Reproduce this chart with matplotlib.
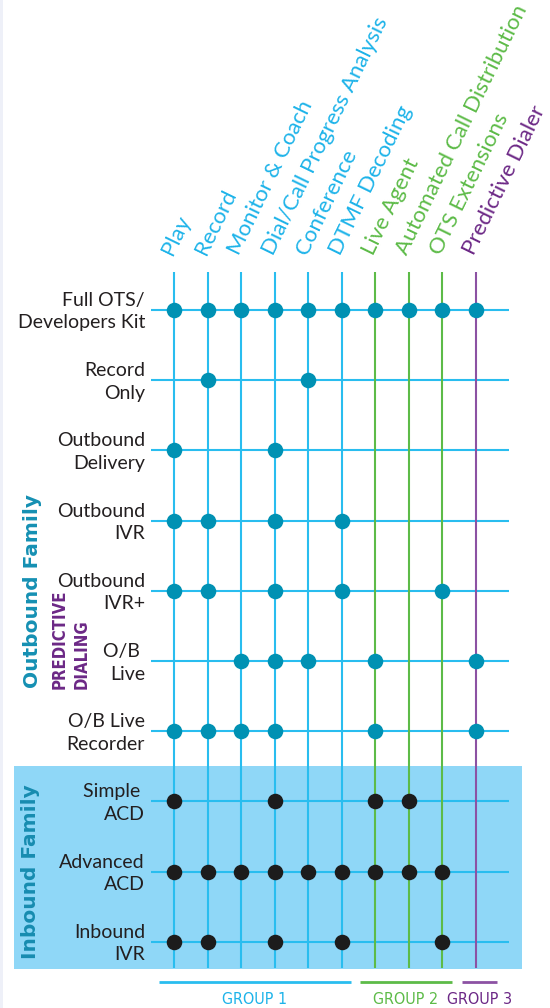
import matplotlib
matplotlib.use("Agg")
import matplotlib.pyplot as plt
from matplotlib import font_manager as fm
from matplotlib.transforms import blended_transform_factory as blend
from matplotlib.patches import Rectangle

# ---------------- data ----------------
features = ["Play", "Record", "Monitor & Coach", "Dial/Call Progress Analysis",
            "Conference", "DTMF Decoding", "Live Agent",
            "Automated Call Distribution", "OTS Extensions", "Predictive Dialer"]
feature_group = [1, 1, 1, 1, 1, 1, 2, 2, 2, 3]

products = ["Full OTS/\nDevelopers Kit", "Record\nOnly", "Outbound\nDelivery",
            "Outbound\nIVR", "Outbound\nIVR+", "O/B \nLive", "O/B Live\nRecorder",
            "Simple \nACD", "Advanced\nACD", "Inbound\nIVR"]
product_family = ["out", "out", "out", "out", "out", "out", "out", "in", "in", "in"]

support = [
    [1, 1, 1, 1, 1, 1, 1, 1, 1, 1],
    [0, 1, 0, 0, 1, 0, 0, 0, 0, 0],
    [1, 0, 0, 1, 0, 0, 0, 0, 0, 0],
    [1, 1, 0, 1, 0, 1, 0, 0, 0, 0],
    [1, 1, 0, 1, 0, 1, 0, 0, 1, 0],
    [0, 0, 1, 1, 1, 0, 1, 0, 0, 1],
    [1, 1, 1, 1, 0, 0, 1, 0, 0, 1],
    [1, 0, 0, 1, 0, 0, 1, 1, 0, 0],
    [1, 1, 1, 1, 1, 1, 1, 1, 1, 0],
    [1, 1, 0, 1, 0, 1, 0, 0, 1, 0],
]
group_names = ["GROUP 1", "GROUP 2", "GROUP 3"]

# ---------------- style ----------------
BLUE_LINE = "#29BDEF"
BLUE_TEXT = "#1DB3E9"
GREEN = "#5DBB48"
PURPLE_LINE = "#8C52A3"
PURPLE_TEXT = "#6C2886"
DOT_OUT = "#0091B3"
DOT_IN = "#1C1C1C"
BG = "#8FD7F7"
TEAL = "#1590B3"
DARK = "#231F20"
line_col = {1: BLUE_LINE, 2: GREEN, 3: PURPLE_LINE}
text_col = {1: BLUE_TEXT, 2: GREEN, 3: PURPLE_TEXT}

names = {f.name for f in fm.fontManager.ttflist}
MAIN = "Lato" if "Lato" in names else "DejaVu Sans"
if "Liberation Sans Narrow" in names:
    NARROW = dict(family="Liberation Sans Narrow")
elif any(f.name == "DejaVu Sans" and f.stretch == "condensed" for f in fm.fontManager.ttflist):
    NARROW = dict(family="DejaVu Sans", stretch="condensed")
else:
    NARROW = dict(family="DejaVu Sans")

W, H = 550, 1008
fig = plt.figure(figsize=(W / 100, H / 100), dpi=100)
fig.patch.set_facecolor("white")

# overlay axes in pixel coordinates (for text placement)
ov = fig.add_axes([0, 0, 1, 1])
ov.set_xlim(0, W)
ov.set_ylim(H, 0)
ov.axis("off")
ov.add_patch(Rectangle((0, 0), 3, H, color="#EEF0F8", lw=0))

# main grid axes
px_left, px_right, px_top, px_bot = 151, 509, 272, 968
ax = fig.add_axes([px_left / W, 1 - px_bot / H, (px_right - px_left) / W, (px_bot - px_top) / H])
ax.patch.set_alpha(0)
ax.axis("off")
col0, dcol = 174, 33.55
row0, drow = 310, 70.2
ax.set_xlim((px_left - col0) / dcol, (px_right - col0) / dcol)
ax.set_ylim((px_bot - row0) / drow, (px_top - row0) / drow)

nrow, ncol = len(products), len(features)
n_out = product_family.count("out")

# inbound background (drawn on the overlay so labels sit on top of it)
tr_bg = blend(fig.transFigure, ax.transData)
ov.add_patch(Rectangle((14 / W, n_out - 0.5), (522 - 14) / W, ax.get_ylim()[0] - (n_out - 0.5) + 0.02,
                       transform=tr_bg, color=BG, lw=0, zorder=0, clip_on=False))

for i in range(nrow):
    ax.axhline(i, color=BLUE_LINE, lw=1.5, zorder=2)
for j in range(ncol):
    ax.axvline(j, color=line_col[feature_group[j]], lw=1.5, zorder=3 if feature_group[j] > 1 else 2)

for i in range(nrow):
    xs = [j for j in range(ncol) if support[i][j]]
    ax.scatter(xs, [i] * len(xs), s=125,
               color=DOT_OUT if product_family[i] == "out" else DOT_IN,
               zorder=5, linewidths=0, clip_on=False)

# column headers
tr_head = blend(ax.transData, ov.transData)
for j, f in enumerate(features):
    ax.text(j - 0.05, 256, f, transform=tr_head, rotation=64, rotation_mode="anchor",
            ha="left", va="baseline", fontsize=16, family=MAIN,
            color=text_col[feature_group[j]], clip_on=False)

# row labels (one text per line, baselines offset from the row line)
tr_row = blend(ov.transData, ax.transData)
line_offsets = [-4 / drow, 18.5 / drow]
for i, p in enumerate(products):
    for k, line in enumerate(p.split("\n")):
        ov.text(145, i + line_offsets[k], line, transform=tr_row, ha="right", va="baseline",
                fontsize=14, family=MAIN, color=DARK, zorder=3)

# family titles
ov.text(33, 591, "Outbound Family", rotation=90, ha="center", va="center",
        fontsize=14.5, fontweight="bold", family="DejaVu Sans", color=TEAL, zorder=3)
ov.text(31, 872, "Inbound Family", rotation=90, ha="center", va="center",
        fontsize=14.5, fontweight="bold", family="DejaVu Sans", color="#178CB0", zorder=3)
ov.text(60, 689, "PREDICTIVE", rotation=90, ha="center", va="bottom",
        fontsize=12, fontweight="bold", color=PURPLE_TEXT, zorder=3, **NARROW)
ov.text(81.5, 689, "DIALING", rotation=90, ha="center", va="bottom",
        fontsize=12, fontweight="bold", color=PURPLE_TEXT, zorder=3, **NARROW)

# group brackets
pad_left = [0.45, 0.45, 0.42]
pad_right = [0.27, 0.28, 0.63]
for g, name in enumerate(group_names):
    cols = [j for j in range(ncol) if feature_group[j] == g + 1]
    x0, x1 = cols[0] - pad_left[g], cols[-1] + pad_right[g]
    ax.plot([x0, x1], [(982 - row0) / drow] * 2, color=line_col[g + 1], lw=2,
            solid_capstyle="butt", clip_on=False)
    ax.text((x0 + x1) / 2, 1000, name, transform=tr_head, ha="center", va="center",
            fontsize=11.5, color=text_col[g + 1], **NARROW)

fig.savefig("out.png", dpi=100)
